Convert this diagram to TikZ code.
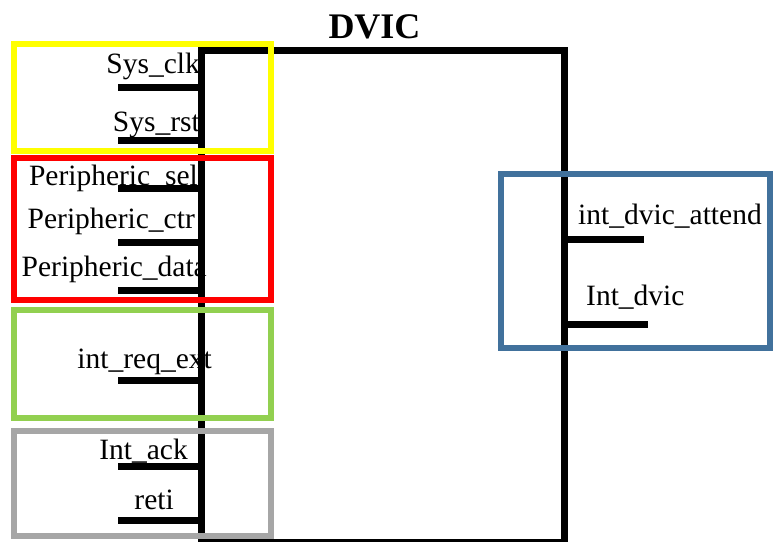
\documentclass[tikz,border=0pt]{standalone}
\usepackage{fontspec}
\setmainfont{Liberation Serif}
\begin{document}
\begin{tikzpicture}[x=1pt,y=-1pt,
  lbl/.style={font=\fontsize{29.5}{31}\selectfont, inner sep=0pt},
  pin/.style={line width=7pt},
  grp/.style={line width=6pt},
  body/.style={draw, line width=6.5pt, inner sep=0pt, outer sep=0pt}]
\definecolor{grpyellow}{HTML}{FFFF00}
\definecolor{grpred}{HTML}{FF0000}
\definecolor{grpgreen}{HTML}{92D050}
\definecolor{grpgray}{HTML}{A6A6A6}
\definecolor{grpblue}{HTML}{41719C}
\useasboundingbox (0,0) rectangle (776,541);

% title
\node[font=\fontsize{36}{38}\selectfont\bfseries, inner sep=0pt, anchor=base] (title) at (374.5,38) {DVIC};

% signal names
\node[lbl, anchor=base east] (tclk)  at (200,73)  {Sys\_clk};
\node[lbl, anchor=base east] (trst)  at (200,131) {Sys\_rst};
\node[lbl, anchor=base east] (tsel)  at (198,185) {Peripheric\_sel};
\node[lbl, anchor=base east] (tctr)  at (195,228) {Peripheric\_ctr};
\node[lbl, anchor=base east] (tdata) at (207,276) {Peripheric\_data};
\node[lbl, anchor=base east] (treq)  at (212,368) {int\_req\_ext};
\node[lbl, anchor=base east] (tack)  at (188,459) {Int\_ack};
\node[lbl, anchor=base east] (treti) at (174,509) {reti};
\node[lbl, anchor=base west] (tatt)  at (578,224) {int\_dvic\_attend};
\node[lbl, anchor=base west] (tint)  at (586,305) {Int\_dvic};

% module body
\node[body, minimum width=363pt, minimum height=492pt] (dvic) at (383,296.5) {};

% pin stub ends
\coordinate (pclk)  at (118,87);
\coordinate (prst)  at (118,140);
\coordinate (psel)  at (118,188);
\coordinate (pctr)  at (118,242);
\coordinate (pdata) at (118,290);
\coordinate (preq)  at (118,380);
\coordinate (pack)  at (118,466);
\coordinate (preti) at (118,520);
\coordinate (patt)  at (644,239);
\coordinate (pint)  at (648,324);

\foreach \p in {pclk,prst,psel,pctr,pdata,preq,pack,preti}
  \draw[pin] (\p) -- (\p -| dvic.west);
\foreach \p in {patt,pint}
  \draw[pin] (\p -| dvic.east) -- (\p);

% signal groups
\draw[grp, grpyellow] (14,44) rectangle (270.5,150.5);
\draw[grp, grpred]    (14,157.5) rectangle (270.5,300);
\draw[grp, grpgreen]  (14,309.5) rectangle (270.5,417.5);
\draw[grp, grpgray]   (14,430.5) rectangle (270.5,535.5);
\draw[grp, grpblue]   (500.5,173.5) rectangle (770,347.5);
\end{tikzpicture}
\end{document}
